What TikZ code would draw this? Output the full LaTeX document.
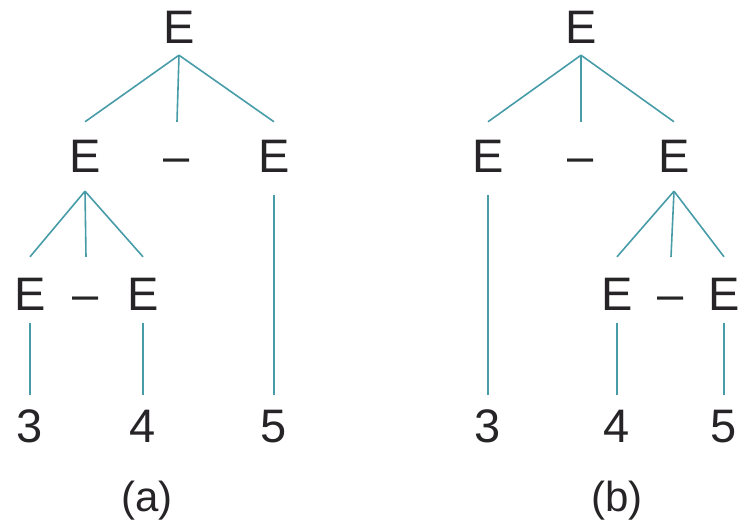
\documentclass[tikz,border=0pt]{standalone}
\usepackage{fontspec}
\setmainfont{Liberation Sans}
\definecolor{treeline}{RGB}{72,156,168}
\definecolor{treetext}{RGB}{38,36,38}
\tikzset{
  sym/.style={anchor=base, inner sep=0pt, text height=34pt, text depth=0pt,
    text=treetext, font=\fontsize{47}{56}\selectfont},
  caption/.style={anchor=base, inner sep=0pt, text=treetext,
    font=\fontsize{42}{50}\selectfont},
  branch/.style={draw=treeline, line width=1.6pt},
}

\begin{document}
\begin{tikzpicture}[x=1pt, y=-1pt]
    \useasboundingbox (0,0) rectangle (740,524);
    \clip (0,0) rectangle (740,524);

    % Tree (a): left operand is the subtraction
    \node[sym] (ra)  at (179,44)  {E};
    \node[sym] (la)  at (85,173)  {E};
    \node[sym] (ma)  at (177,173) {\textendash};
    \node[sym] (ka)  at (274,173) {E};
    \node[sym] (lla) at (30,311)  {E};
    \node[sym] (lma) at (86,311)  {\textendash};
    \node[sym] (lra) at (143,311) {E};
    \node[sym] (n3a) at (30,442)  {3};
    \node[sym] (n4a) at (143,442) {4};
    \node[sym] (n5a) at (274,442) {5};
    \node[caption] (capa) at (147,511) {(a)};

    % Tree (b): right operand is the subtraction
    \node[sym] (rb)  at (581,44)  {E};
    \node[sym] (lb)  at (488,173) {E};
    \node[sym] (mb)  at (581,173) {\textendash};
    \node[sym] (kb)  at (674,173) {E};
    \node[sym] (rlb) at (617,311) {E};
    \node[sym] (rmb) at (671,311) {\textendash};
    \node[sym] (rrb) at (724,311) {E};
    \node[sym] (n3b) at (488,442) {3};
    \node[sym] (n4b) at (617,442) {4};
    \node[sym] (n5b) at (724,442) {5};
    \node[caption] (capb) at (617,511) {(b)};

    % Branches: parent/child/gap under parent/gap over child
    \foreach \p/\c/\a/\b in {ra/la/11/17, ra/ma/11/17, ra/ka/11/17,
                             la/lla/18/20, la/lma/18/20, la/lra/18/20,
                             ka/n5a/22/13, lla/n3a/12/13, lra/n4a/12/13,
                             rb/lb/11/17, rb/mb/11/17, rb/kb/11/17,
                             kb/rlb/18/20, kb/rmb/18/20, kb/rrb/18/20,
                             lb/n3b/22/13, rlb/n4b/12/13, rrb/n5b/12/13}
        \draw[branch] ([yshift=-\a pt]\p.south) -- ([yshift=\b pt]\c.north);
\end{tikzpicture}
\end{document}
